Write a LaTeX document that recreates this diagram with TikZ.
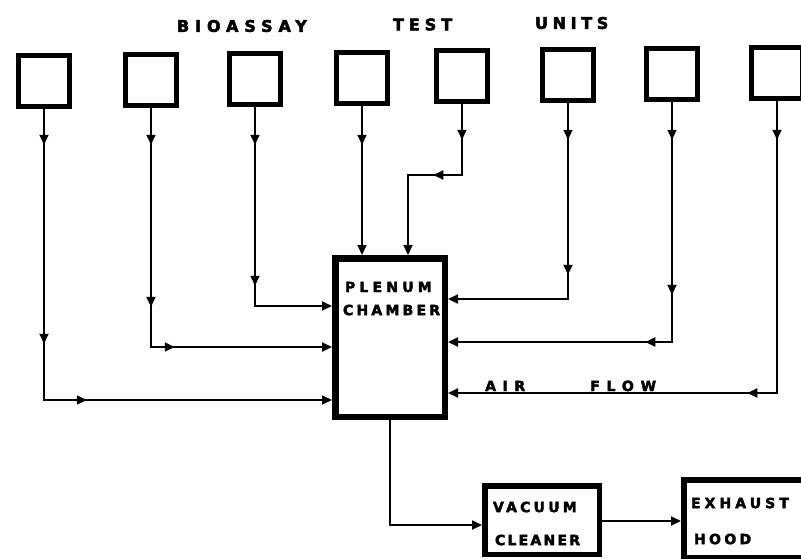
\documentclass[tikz,border=0pt]{standalone}
\usepackage{fontspec}
\newfontfamily\lblfont[BoldFeatures={FakeBold=3}]{DejaVu Sans}
\usetikzlibrary{arrows.meta,decorations.markings}
\newcommand{\lblsize}[2]{\lblfont\bfseries\fontsize{#1}{#1}\selectfont\addfontfeature{LetterSpace=#2}}
\begin{document}
\begin{tikzpicture}[x=1pt,y=-1pt,
  >={Triangle[length=10pt,width=9pt]},
  unit/.style={draw,line width=5.5pt,minimum width=51pt,minimum height=51pt,inner sep=0pt},
  block/.style={draw,line width=5.5pt,inner sep=0pt},
  flow/.style={line width=2pt,->},
  mk/.style={postaction={decorate,decoration={markings,mark=at position #1 with {\arrow{>}}}}},
  lbl/.style={inner sep=0pt,outer sep=0pt,anchor=west}
]
\path[use as bounding box] (0,0) rectangle (801,558);
\clip (0,0) rectangle (801,558);

% titles
\node[lbl,font=\lblsize{16}{37}] (tbio) at (177,26) {BIOASSAY};
\node[lbl,font=\lblsize{16}{31}] (ttest) at (393,24.5) {TEST};
\node[lbl,font=\lblsize{16}{29}] (tunits) at (535,23) {UNITS};

% bioassay test units
\node[unit] (b1) at (44,81) {};
\node[unit] (b2) at (151,80) {};
\node[unit] (b3) at (255,79) {};
\node[unit] (b4) at (362,78) {};
\node[unit] (b5) at (462,76) {};
\node[unit] (b6) at (568,75) {};
\node[unit] (b7) at (672,74) {};
\node[unit] (b8) at (777,73) {};

% plenum chamber
\node[block,line width=6.5pt,minimum width=109.5pt,minimum height=158.5pt] (p) at (390,337.5) {};
\node[lbl,font=\lblsize{14}{30}] (tplen) at (345,287) {PLENUM};
\node[lbl,font=\lblsize{14}{23}] (tcham) at (343,310) {CHAMBER};

% vacuum cleaner and exhaust hood
\node[block,minimum width=114.5pt,minimum height=68.5pt] (vac) at (542,520) {};
\node[lbl,font=\lblsize{14}{23}] (tvac) at (493,507) {VACUUM};
\node[lbl,font=\lblsize{14}{16}] (tclean) at (495,540) {CLEANER};
\node[block,minimum width=123.5pt,minimum height=77.5pt] (ex) at (745.5,518.5) {};
\node[lbl,font=\lblsize{14}{29}] (texh) at (691,503) {EXHAUST};
\node[lbl,font=\lblsize{14}{24}] (thood) at (694,539) {HOOD};

% connector corners
\coordinate (c1) at (44,400);
\coordinate (c2) at (151,347);
\coordinate (c3) at (255,306);
\coordinate (c5a) at (462,175);
\coordinate (c5b) at (408,175);
\coordinate (c6) at (568,299);
\coordinate (c7) at (672,342);
\coordinate (c8) at (777,393);
\coordinate (cv) at (390,525);
\coordinate (ce) at (640,521);

% left inputs
\draw[flow,mk=35.5pt,mk=234.5pt,mk=333.5pt] (b1.south) -- (c1) -- (c1 -| p.west);
\draw[flow,mk=36.5pt,mk=198.5pt,mk=262.5pt] (b2.south) -- (c2) -- (c2 -| p.west);
\draw[flow,mk=37.5pt,mk=178.5pt] (b3.south) -- (c3) -- (c3 -| p.west);
% top inputs
\draw[flow,mk=38.5pt] (b4.south) -- (b4.south |- p.north);
\draw[flow,mk=35.5pt,mk=99.5pt] (b5.south) -- (c5a) -- (c5b) -- (c5b |- p.north);
% right inputs
\draw[flow,mk=36.5pt,mk=171.5pt] (b6.south) -- (c6) -- (c6 -| p.east);
\draw[flow,mk=37.5pt,mk=192.5pt,mk=266.5pt] (b7.south) -- (c7) -- (c7 -| p.east);
\draw[flow,mk=38.5pt,mk=321.5pt] (b8.south) -- (c8) -- (c8 -| p.east);

% air flow label
\node[inner sep=0pt,anchor=base west,font=\lblsize{14}{47}] (tair) at (485,391) {AIR};
\node[inner sep=0pt,anchor=base west,font=\lblsize{14}{49}] (tflow) at (590,391) {FLOW};

% output chain
\draw[flow] (p.south) -- (cv) -- (cv -| vac.west);
\draw[flow] (vac.east |- ce) -- (ce -| ex.west);
\end{tikzpicture}
\end{document}
